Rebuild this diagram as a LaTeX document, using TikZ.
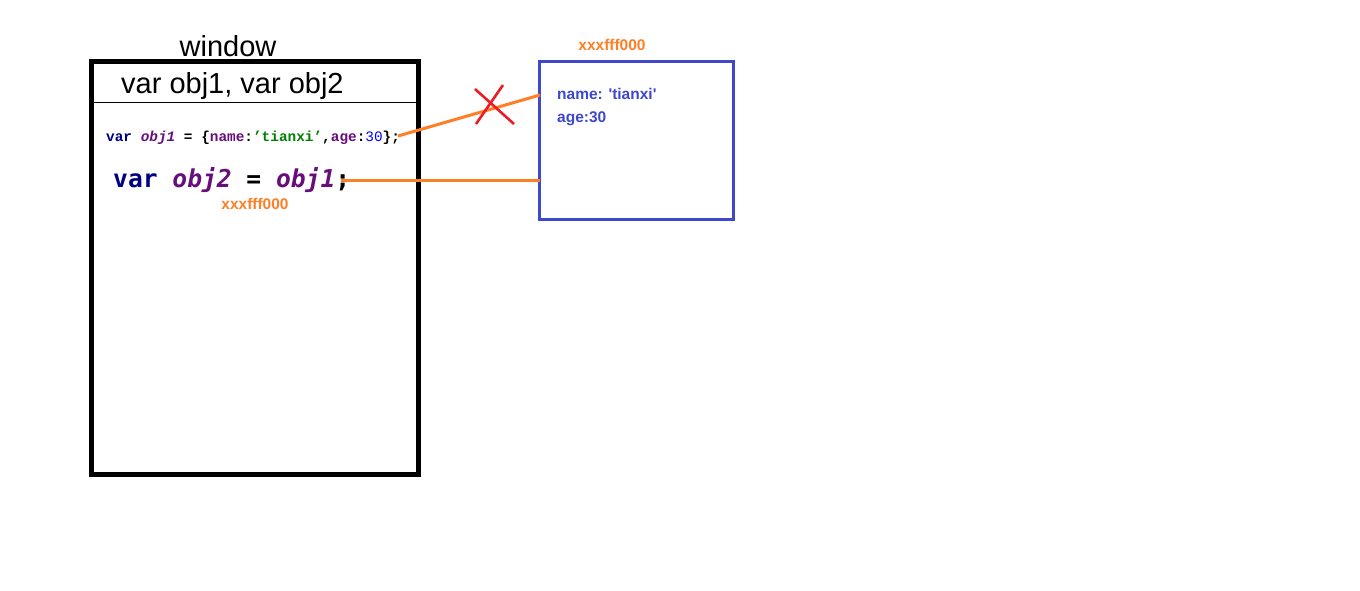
\documentclass[tikz,border=0pt]{standalone}
\usepackage{fontspec}
\setmainfont{Liberation Sans}
\newfontfamily\codefont{Liberation Mono}
\newfontfamily\bigcode{DejaVu Sans Mono}
\definecolor{navy}{HTML}{000080}
\definecolor{kwpurple}{HTML}{660E7A}
\definecolor{strgreen}{HTML}{008000}
\definecolor{numblue}{HTML}{0000FF}
\definecolor{heapblue}{HTML}{3F48CC}
\definecolor{refor}{HTML}{FF7F27}
\definecolor{crossred}{HTML}{ED1C24}
\begin{document}
\begin{tikzpicture}[x=1pt,y=-1pt,
  lbl/.style={inner sep=0pt,anchor=west},
  addr/.style={inner sep=0pt,text=refor,font=\fontsize{15.5}{18}\selectfont\bfseries},
  heaptxt/.style={inner sep=0pt,anchor=west,text=heapblue,font=\fontsize{15.5}{18}\selectfont\bfseries},
  ref/.style={draw=refor,line width=3pt},
  cross/.style={draw=crossred,line width=2.6pt}]
\useasboundingbox (0,0) rectangle (1360,591);
\fill[white] (0,0) rectangle (1360,591);
% window box
\draw[line width=5pt] (91.5,61.5) rectangle (418.5,474.5);
\draw[line width=1pt] (93,103) -- (416,103);
\node[inner sep=0pt,font=\fontsize{29}{32}\selectfont] (wlabel) at (228,46.5) {window};
\node[lbl,font=\fontsize{29}{32}\selectfont] (vars) at (121,86) {var obj1, var obj2};
% code lines
\node[lbl,font=\codefont\bfseries\fontsize{14.4}{16}\selectfont] (code1) at (106,138)
  {\textcolor{navy}{var} \textcolor{kwpurple}{\itshape obj1} = \{\textcolor{kwpurple}{name}:\textcolor{strgreen}{’tianxi’},\textcolor{kwpurple}{age}:\textcolor{numblue}{\mdseries 30}\};};
\node[lbl,font=\bigcode\bfseries\fontsize{24.6}{28}\selectfont] (code2) at (113,180)
  {\textcolor{navy}{var} \textcolor{kwpurple}{\itshape obj2} = \textcolor{kwpurple}{\itshape obj1};};
\node[addr] (addr2) at (255,204) {xxxfff000};
% heap object
\node[draw=heapblue,line width=3pt,minimum width=194pt,minimum height=157pt,inner sep=0pt] (heap) at (636,140.5) {};
\node[addr] (addr1) at (612,45) {xxxfff000};
\node[heaptxt] (name) at (557,94) {name: \textquotesingle tianxi\textquotesingle};
\node[heaptxt] (age) at (557,119) {age:30};
% references
\coordinate (r1s) at (398,136);
\coordinate (r1e) at (540,95);
\coordinate (r2s) at (341,180.5);
\coordinate (r2e) at (540,180.5);
\draw[ref] (r1s) -- (r1e);
\draw[ref] (r2s) -- (r2e);
% cross
\coordinate (c1a) at (475,89);
\coordinate (c1b) at (514,124);
\coordinate (c2a) at (503,85);
\coordinate (c2b) at (476,124);
\draw[cross] (c1a) -- (c1b);
\draw[cross] (c2a) -- (c2b);
\end{tikzpicture}
\end{document}
